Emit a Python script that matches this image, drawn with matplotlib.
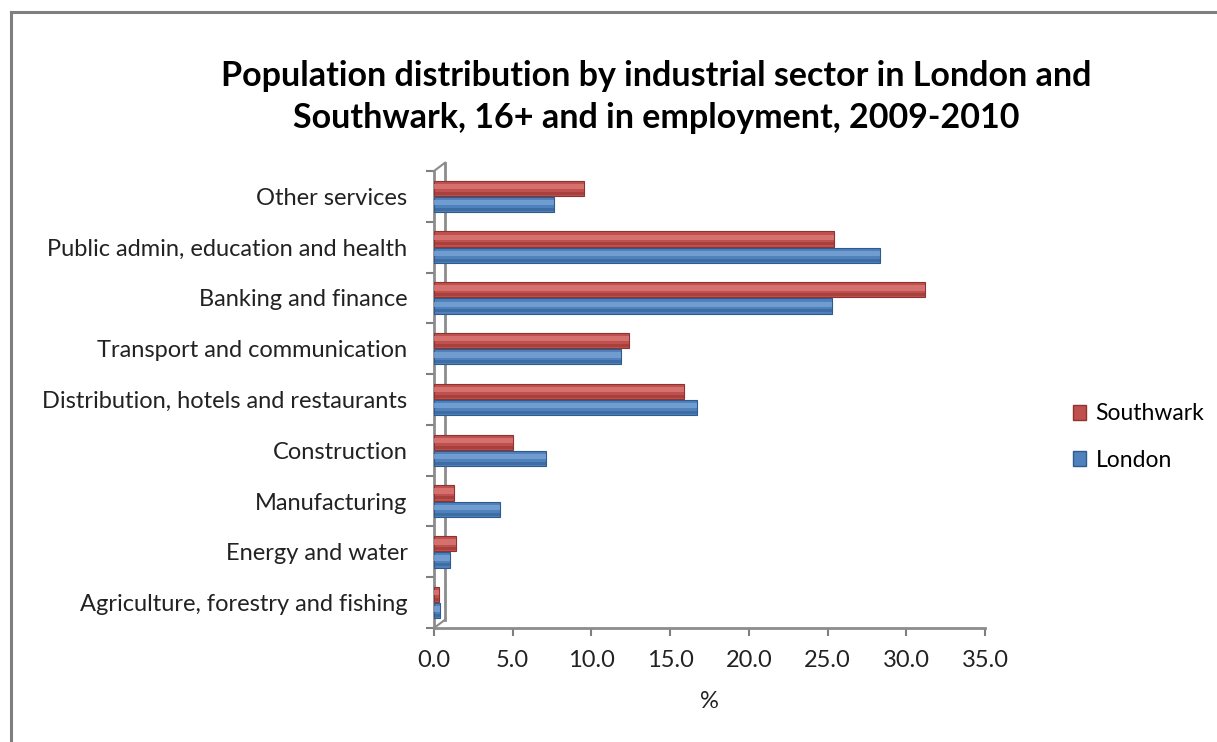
import matplotlib.pyplot as plt
import matplotlib.transforms as mtransforms
from matplotlib.lines import Line2D
from matplotlib.patches import Patch
import numpy as np

plt.rcParams['font.family'] = ['Lato', 'DejaVu Sans']

sectors = ['Agriculture, forestry and fishing', 'Energy and water', 'Manufacturing',
           'Construction', 'Distribution, hotels and restaurants',
           'Transport and communication', 'Banking and finance',
           'Public admin, education and health', 'Other services']
southwark = [0.3, 1.4, 1.3, 5.0, 15.9, 12.4, 31.2, 25.4, 9.5]
london = [0.4, 1.0, 4.2, 7.1, 16.7, 11.9, 25.3, 28.3, 7.6]
x_ticks = [0, 5, 10, 15, 20, 25, 30, 35]

red, red_dark, red_light = '#C0504D', '#8E3330', '#DA7A77'
blue, blue_dark, blue_light = '#4F81BD', '#2E5A8C', '#7AA3D6'

fig = plt.figure(figsize=(12.17, 7.42), dpi=100)
fig.patch.set_facecolor('white')

# outer chart frame (top and left edges only)
fig.add_artist(Line2D([11 / 1217, 11 / 1217], [0, 1 - 12 / 742], transform=fig.transFigure,
                      color='#7f7f7f', lw=2.2))
fig.add_artist(Line2D([11 / 1217, 1], [1 - 12 / 742, 1 - 12 / 742], transform=fig.transFigure,
                      color='#7f7f7f', lw=2.2))

ax = fig.add_axes([434 / 1217, 1 - 628 / 742, 551 / 1217, 457 / 742])

y = np.arange(len(sectors))
h = 0.3
off = 0.16


def cylinder_bars(ypos, vals, base, dark, light):
    ax.barh(ypos, vals, height=h, color=base, edgecolor=dark, linewidth=0.8, zorder=3)
    # highlight band to give the rounded look
    ax.barh(ypos + h * 0.12, vals, height=h * 0.35, color=light, linewidth=0, zorder=4, alpha=0.8)
    ax.barh(ypos - h * 0.32, vals, height=h * 0.2, color=dark, linewidth=0, zorder=4, alpha=0.5)


cylinder_bars(y + off, southwark, red, red_dark, red_light)
cylinder_bars(y - off, london, blue, blue_dark, blue_light)

ax.set_xlim(0, 35)
ax.set_ylim(-0.5, len(sectors) - 0.5)
ax.set_xticks(x_ticks)
ax.set_xticklabels([f'{v:.1f}' for v in x_ticks], fontsize=17, color='#222222')
ax.set_yticks(y)
ax.set_yticklabels(sectors, fontsize=17, color='#222222')
ax.set_yticks(np.arange(-0.5, len(sectors)), minor=True)
ax.tick_params(axis='y', which='major', length=0, pad=19)
ax.tick_params(axis='y', which='minor', length=6, color='#7f7f7f', width=1.5)
ax.tick_params(axis='x', length=6, color='#7f7f7f', width=1.5, pad=10)
ax.set_xlabel('%', fontsize=17, color='#222222', labelpad=14)

for s in ['top', 'right']:
    ax.spines[s].set_visible(False)
for s in ['left', 'bottom']:
    ax.spines[s].set_color('#8c8c8c')
    ax.spines[s].set_linewidth(2)

# back wall of the 3-D frame
shift = mtransforms.offset_copy(ax.transAxes, fig=fig, x=8, y=6, units='points')
ax.add_line(Line2D([0, 0], [0, 1], transform=shift, color='#8c8c8c', lw=2, clip_on=False))
ax.add_line(Line2D([0, 8 / 72 * 100 / (551)], [0, 6 / 72 * 100 / 457], transform=ax.transAxes,
                   color='#8c8c8c', lw=1.5, clip_on=False))
ax.add_line(Line2D([0, 8 / 72 * 100 / 551], [1, 1 + 6 / 72 * 100 / 457], transform=ax.transAxes,
                   color='#8c8c8c', lw=1.5, clip_on=False))

fig.text(656 / 1217, 1 - 97 / 742,
         'Population distribution by industrial sector in London and\n'
         'Southwark, 16+ and in employment, 2009-2010',
         ha='center', va='center', fontsize=24.5, fontweight='bold', linespacing=1.35)

handles = [Patch(facecolor=red, edgecolor=red_dark, label='Southwark'),
           Patch(facecolor=blue, edgecolor=blue_dark, label='London')]
fig.legend(handles=handles, loc='center left', bbox_to_anchor=(1052 / 1217, 1 - 437 / 742),
           frameon=False, fontsize=16.5, handlelength=0.6, handleheight=0.6,
           handletextpad=0.4, labelspacing=1.1)

fig.savefig('out.png', dpi=100, facecolor='white')
